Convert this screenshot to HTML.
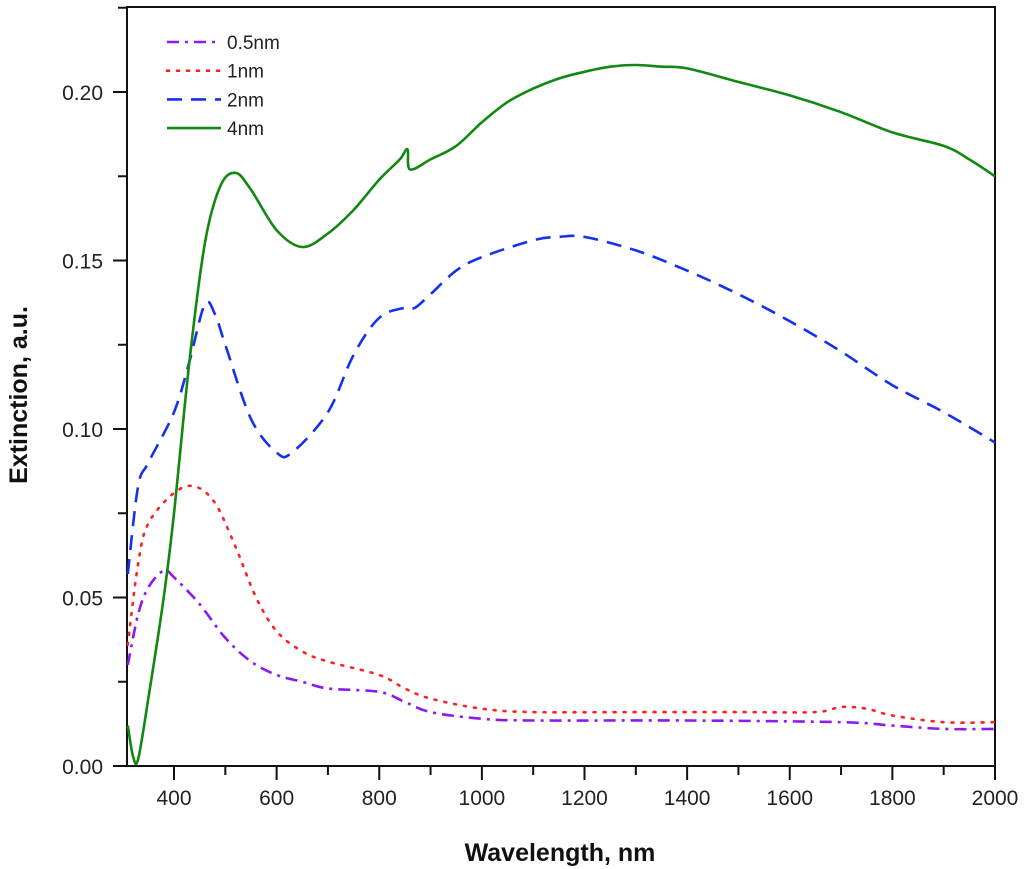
<!DOCTYPE html>
<html><head><meta charset="utf-8"><style>
body{margin:0;background:#fff;}
svg{display:block;font-family:"Liberation Sans",Arial,sans-serif;}
</style></head><body>
<svg id="chart" width="1024" height="869"></svg>
<script>
const xTicks=[400,600,800,1000,1200,1400,1600,1800,2000];
const yTicks=[0.00,0.05,0.10,0.15,0.20];
const yTickLabels=["0.00","0.05","0.10","0.15","0.20"];
const seriesNames=["0.5nm","1nm","2nm","4nm"];
const wl05=[310,330,350,380,400,450,500,550,600,650,700,800,850,900,1000,1100,1400,1700,1800,1900,2000];
const v05=[0.030,0.045,0.053,0.058,0.056,0.048,0.038,0.031,0.027,0.025,0.023,0.022,0.019,0.016,0.014,0.0135,0.0135,0.013,0.012,0.011,0.011];
const wl1=[310,330,350,400,440,480,520,560,600,650,700,800,850,900,1000,1100,1300,1500,1650,1700,1750,1800,1900,2000];
const v1=[0.036,0.060,0.072,0.081,0.083,0.078,0.065,0.050,0.040,0.034,0.031,0.027,0.023,0.020,0.017,0.016,0.016,0.016,0.016,0.0175,0.017,0.015,0.013,0.013];
const wl2=[310,330,350,400,430,460,480,500,550,600,630,700,750,800,850,870,900,950,1000,1100,1150,1200,1300,1400,1500,1600,1700,1800,1900,2000];
const v2=[0.057,0.083,0.090,0.105,0.120,0.137,0.134,0.125,0.103,0.093,0.093,0.105,0.122,0.133,0.136,0.136,0.140,0.147,0.151,0.156,0.157,0.157,0.153,0.147,0.140,0.132,0.123,0.113,0.105,0.096];
const wl4=[310,320,330,350,380,400,430,460,490,520,550,600,650,700,750,800,840,855,860,900,950,1000,1050,1100,1150,1200,1250,1300,1350,1400,1500,1600,1700,1800,1900,1950,2000];
const v4=[0.012,0.003,0.002,0.020,0.050,0.075,0.120,0.155,0.172,0.176,0.171,0.159,0.154,0.158,0.165,0.174,0.180,0.183,0.177,0.180,0.184,0.191,0.197,0.201,0.204,0.206,0.2075,0.208,0.2075,0.207,0.203,0.199,0.194,0.188,0.184,0.180,0.175];

const NS="http://www.w3.org/2000/svg";
const svg=document.getElementById('chart');
const L=127,R=995,T=7,B=766;
const X=v=>174+(v-400)*(995-174)/1600;
const Y=v=>766-v*(766-92)/0.20;
function mk(tag,attrs,parent){const e=document.createElementNS(NS,tag);for(const k in attrs)e.setAttribute(k,attrs[k]);(parent||svg).appendChild(e);return e;}
function smooth(pts){
  let d='M'+pts[0][0].toFixed(1)+','+pts[0][1].toFixed(1);
  for(let i=0;i<pts.length-1;i++){
    const p0=pts[Math.max(0,i-1)],p1=pts[i],p2=pts[i+1],p3=pts[Math.min(pts.length-1,i+2)];
    const c1=[p1[0]+(p2[0]-p0[0])/6,p1[1]+(p2[1]-p0[1])/6];
    const c2=[p2[0]-(p3[0]-p1[0])/6,p2[1]-(p3[1]-p1[1])/6];
    d+=' C'+c1[0].toFixed(1)+','+c1[1].toFixed(1)+' '+c2[0].toFixed(1)+','+c2[1].toFixed(1)+' '+p2[0].toFixed(1)+','+p2[1].toFixed(1);
  }
  return d;
}

const frame=mk('rect',{x:L,y:T,width:R-L,height:B-T,fill:'none',stroke:'#111','stroke-width':2});



for(let v=400;v<=2000;v+=100){
  const major=(v%200===0);
  const t=mk('line',{x1:X(v),x2:X(v),y1:B,y2:B+(major?14:9),stroke:'#111','stroke-width':2});
  
  
}
xTicks.forEach(v=>{
  const t=mk('text',{x:X(v),y:B+39,'text-anchor':'middle','font-size':21,fill:'#222'});
  t.textContent=v;
  
  
});
for(let i=0;i<=9;i++){
  const v=i*0.025;
  const major=(i%2===0);
  const t=mk('line',{x1:L,x2:L-(major?14:9),y1:Y(v),y2:Y(v),stroke:'#111','stroke-width':2});
  
  
}
yTicks.forEach((v,i)=>{
  const t=mk('text',{x:103,y:Y(v)+8,'text-anchor':'end','font-size':21,fill:'#222'});
  t.textContent=yTickLabels[i];
  
  
});
const xt=mk('text',{x:560,y:861,'text-anchor':'middle','font-size':25,'font-weight':'bold',fill:'#111'});
xt.textContent='Wavelength, nm';


const yt=mk('text',{x:0,y:0,'text-anchor':'middle','font-size':25,'font-weight':'bold',fill:'#111',transform:'translate(27,395) rotate(-90)'});
yt.textContent='Extinction, a.u.';



const styles=[
 {c:'#8B1AF0',d:'12 6 3 6',cap:'butt'},
 {c:'#FF2020',d:'2 8',cap:'round'},
 {c:'#1530F0',d:'15 9',cap:'butt'},
 {c:'#118811',d:'',cap:'butt'}];
const data=[[wl05,v05],[wl1,v1],[wl2,v2],[wl4,v4]];
const names=['series-0-5nm','series-1nm','series-2nm','series-4nm'];
data.forEach((s,i)=>{
  const pts=s[0].map((w,j)=>[X(w),Y(s[1][j])]);
  const p=mk('path',{d:smooth(pts),fill:'none',stroke:styles[i].c,'stroke-width':2.6,'stroke-dasharray':styles[i].d,'stroke-linecap':styles[i].cap,'stroke-linejoin':'round'});
  
  
});
seriesNames.forEach((n,i)=>{
  const y=42+i*28.7;
  const l=mk('line',{x1:167,x2:221,y1:y,y2:y,stroke:styles[i].c,'stroke-width':2.6,'stroke-dasharray':styles[i].d,'stroke-linecap':styles[i].cap});
  
  
  const t=mk('text',{x:227,y:y+7,'font-size':19,fill:'#222'});
  t.textContent=n;
  
  
});
</script>
</body></html>
